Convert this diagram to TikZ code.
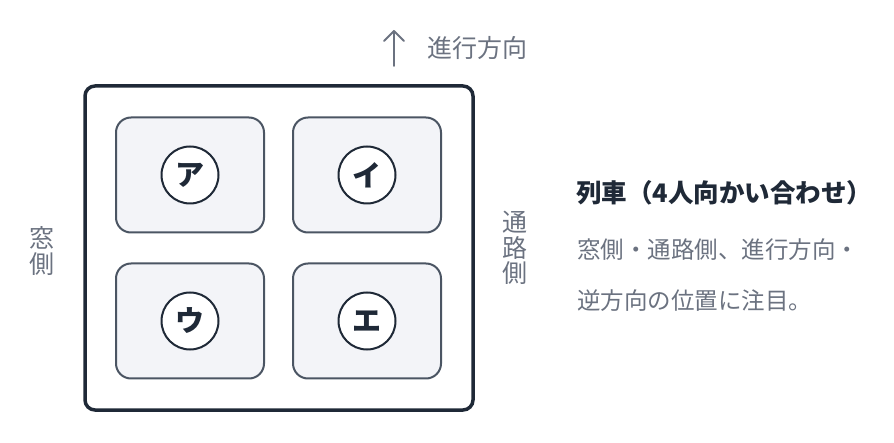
\documentclass[tikz,border=0pt]{standalone}
\usepackage{fontspec}
\setmainfont{Noto Sans CJK JP}
\definecolor{dark}{HTML}{1F2937}
\definecolor{seatline}{HTML}{4B5563}
\definecolor{seatfill}{HTML}{F3F4F8}
\definecolor{txtgray}{HTML}{6B7280}
\tikzset{
  seatbox/.style={draw=seatline, line width=2pt, fill=seatfill, rounded corners=15pt, minimum width=148pt, minimum height=115pt, inner sep=0pt},
  seatmark/.style={draw=dark, line width=2pt, fill=white, circle, minimum size=57pt, inner sep=0pt, font=\fontsize{29}{29}\selectfont\bfseries, text=dark},
  graytext/.style={text=txtgray, inner sep=0pt, anchor=west},
  sidelabel/.style={text=txtgray, font=\fontsize{25}{25.5}\selectfont, align=center, inner sep=0pt},
}
\begin{document}
\begin{tikzpicture}[x=1pt,y=-1pt]
\useasboundingbox (0,0) rectangle (894,443);
% frame
\node[draw=dark, line width=3.5pt, rounded corners=10pt, minimum width=388pt, minimum height=324pt, inner sep=0pt] (frame) at (279,248) {};
% seats
\node[seatbox] (s1) at (190,175) {};
\node[seatbox] (s2) at (367,175) {};
\node[seatbox] (s3) at (190,321) {};
\node[seatbox] (s4) at (367,321) {};
\node[seatmark] (c1) at (s1.center) {ア};
\node[seatmark] (c2) at (s2.center) {イ};
\node[seatmark] (c3) at (s3.center) {ウ};
\node[seatmark] (c4) at (s4.center) {エ};
% direction arrow
\coordinate (ab) at (394,66);
\coordinate (at) at (394,31);
\draw[txtgray, line width=2pt, line cap=round] (ab) -- (at);
\draw[txtgray, line width=2pt, line cap=round, line join=round] (384,41) -- (at) -- (404,41);
\node[graytext, font=\fontsize{25}{25}\selectfont] (dir) at (427,48) {進行方向};
% side labels
\node[sidelabel] (win) at (42,251) {窓\\側};
\node[sidelabel] (aisle) at (515,248) {通\\路\\側};
% right text
\node[text=dark, inner sep=0pt, anchor=west, font=\fontsize{25.5}{25.5}\selectfont\bfseries] (title) at (576,193) {列車（4人向かい合わせ）};
\node[graytext, font=\fontsize{23.5}{23.5}\selectfont] (l1) at (577,250) {窓側・通路側、進行方向・};
\node[graytext, font=\fontsize{23.5}{23.5}\selectfont] (l2) at (577,301) {逆方向の位置に注目。};
\end{tikzpicture}
\end{document}
